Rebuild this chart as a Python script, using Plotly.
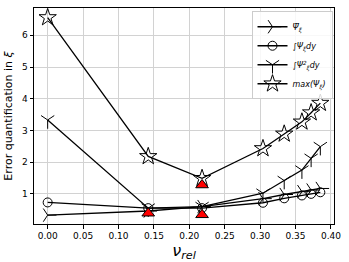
import plotly.graph_objects as go

nu_rel = [0.0, 0.142, 0.218, 0.304, 0.334, 0.359, 0.372, 0.385]
psi_mean = [0.33, 0.46, 0.60, 0.85, 0.98, 1.07, 1.12, 1.17]
psi_int = [0.73, 0.55, 0.55, 0.72, 0.86, 0.95, 1.00, 1.05]
psi_sq_int = [3.33, 0.55, 0.60, 1.02, 1.42, 1.75, 2.12, 2.49]
psi_max = [6.56, 2.18, 1.49, 2.43, 2.89, 3.27, 3.56, 3.86]

red_x = [0.142, 0.218, 0.218]
red_y = [0.39, 1.28, 0.34]

series = [
    ("<i>Ψ̅<sub>ξ</sub></i>", psi_mean, "y-right-open", 11),
    ("∫<i>Ψ<sub>ξ</sub>dy</i>", psi_int, "circle-open", 9),
    ("∫<i>Ψ<sup>2</sup><sub>ξ</sub>dy</i>", psi_sq_int, "y-down-open", 11),
    ("<i>max(Ψ<sub>ξ</sub>)</i>", psi_max, "star-open", 13),
]

fig = go.Figure()
for name, vals, sym, sz in series:
    fig.add_trace(go.Scatter(
        x=nu_rel, y=vals, mode="lines+markers", name=name,
        line=dict(color="black", width=1.3),
        marker=dict(symbol=sym, size=sz, color="black",
                    line=dict(color="black", width=1)),
    ))

fig.add_trace(go.Scatter(
    x=red_x, y=red_y, mode="markers", showlegend=False,
    marker=dict(symbol="triangle-up", size=11, color="red",
                line=dict(color="black", width=1)),
))

axis_common = dict(
    showline=True, linecolor="black", linewidth=1, mirror=True,
    ticks="outside", ticklen=3.5, tickcolor="black", tickwidth=1,
    showgrid=True, gridcolor="#d2d2d2", gridwidth=1, zeroline=False,
    tickfont=dict(family="DejaVu Sans", size=9, color="black"),
    automargin=False,
)

fig.update_xaxes(range=[-0.0193, 0.4043], dtick=0.05, tick0=0, tickformat=".2f",
                 title=dict(text="<i>ν</i><sub><i>rel</i></sub>",
                            font=dict(family="DejaVu Sans", size=16, color="black"),
                            standoff=1),
                 **axis_common)
fig.update_yaxes(range=[0.05, 6.86], dtick=1, tick0=0,
                 title=dict(text="Error quantification in <i>ξ</i>",
                            font=dict(family="DejaVu Sans", size=11, color="black"),
                            standoff=7),
                 **axis_common)

fig.update_layout(
    width=349, height=262,
    margin=dict(l=34, r=15, t=8, b=38),
    paper_bgcolor="white", plot_bgcolor="white",
    font=dict(family="DejaVu Sans", color="black"),
    legend=dict(x=0.995, y=0.985, xanchor="right", yanchor="top",
                bgcolor="rgba(255,255,255,0.85)", bordercolor="#cccccc", borderwidth=1,
                font=dict(family="DejaVu Sans", size=8, color="black"),
                itemwidth=30, tracegroupgap=0),
    showlegend=True,
)

fig.write_html("out.html", config={"displayModeBar": False},
               post_script="document.body.style.margin='0';")
